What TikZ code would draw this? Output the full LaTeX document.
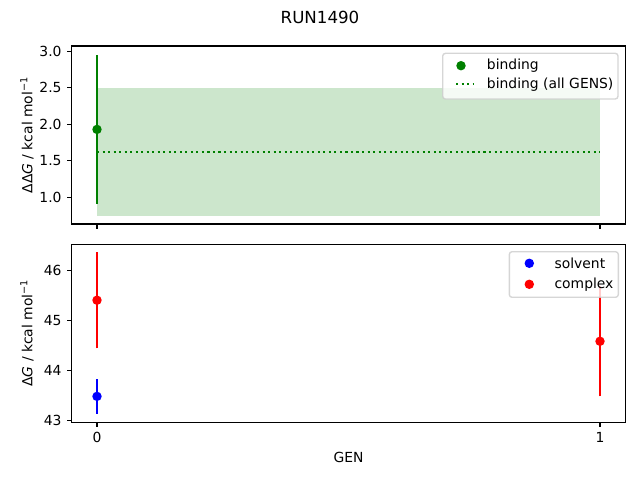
\documentclass[tikz,border=0pt]{standalone}
\usepackage{fontspec}
\setmainfont{DejaVu Sans}
\usepackage{tikz}
\definecolor{mplgreen}{RGB}{0,128,0}
\definecolor{mplblue}{RGB}{0,0,255}
\definecolor{mplred}{RGB}{255,0,0}
\definecolor{legedge}{gray}{0.8}
\tikzset{
  axframe/.style={line width=0.8pt},
  axtick/.style={line width=0.8pt},
  errbar/.style={line width=1.5pt},
  ticklab/.style={inner sep=0pt,font=\fontsize{10}{12}\selectfont},
  legbox/.style={draw=legedge,fill=white,fill opacity=0.8,draw opacity=0.8,rounded corners=2pt,line width=1pt},
  dotline/.style={line width=1.5pt,dash pattern=on 1.5pt off 2.475pt}
}
\begin{document}
\begin{tikzpicture}[x=0.72pt,y=-0.72pt]
\useasboundingbox (0,0) rectangle (640,480);
\node[inner sep=0pt,font=\fontsize{12}{14}\selectfont] (title) at (320,17) {RUN1490};

\begin{scope}[shift={(97,270.3)},x={(362.16pt,0pt)},y={(0pt,52.56pt)}]
  \fill[mplgreen,opacity=0.2] (0,0.74) rectangle (1,2.50);
  \draw[mplgreen,dotline] (0,1.62) -- (1,1.62);
  \draw[errbar,mplgreen] (0,0.91) -- (0,2.95);
  \fill[mplgreen] (0,1.93) circle[radius=3.4pt];
  \draw[axframe] (-0.05,0.634) rectangle (1.05,3.073);
  \foreach \v [count=\i] in {1.0,1.5,2.0,2.5,3.0}
    \draw[axtick] (-0.05,\v) -- ++(-3.5pt,0pt) node[ticklab,anchor=east,xshift=-3.5pt] (ytop\i) {\v};
  \foreach \v in {0,1}
    \draw[axtick] (\v,0.634) -- ++(0pt,-3.5pt);
\end{scope}

\begin{scope}[shift={(97,2574.6)},x={(362.16pt,0pt)},y={(0pt,36.07pt)}]
  \draw[errbar,mplred] (0,44.44) -- (0,46.36);
  \fill[mplred] (0,45.40) circle[radius=3.4pt];
  \draw[errbar,mplblue] (0,43.13) -- (0,43.82);
  \fill[mplblue] (0,43.48) circle[radius=3.4pt];
  \draw[errbar,mplred] (1,43.48) -- (1,45.68);
  \fill[mplred] (1,44.58) circle[radius=3.4pt];
  \draw[axframe] (-0.05,42.966) rectangle (1.05,46.519);
  \foreach \v [count=\i] in {43,44,45,46}
    \draw[axtick] (-0.05,\v) -- ++(-3.5pt,0pt) node[ticklab,anchor=east,xshift=-3.5pt] (ybot\i) {\v};
  \foreach \v in {0,1}
    \draw[axtick] (\v,42.966) -- ++(0pt,-3.5pt) node[ticklab,anchor=north,yshift=-3.5pt] (xt\v) {\v};
\end{scope}

\node[ticklab,rotate=90] (ylabtop) at (27,135) {ΔΔ\textit{G} / kcal mol\textsuperscript{−1}};
\node[ticklab,rotate=90] (ylabbot) at (27,333) {Δ\textit{G} / kcal mol\textsuperscript{−1}};
\node[ticklab] (xlab) at (348.5,457) {GEN};

\draw[legbox] (442.7,53.3) rectangle (618,99);
\fill[mplgreen] (461,65.7) circle[radius=3.4pt];
\node[ticklab,anchor=west] (legbind) at (486.7,65.7) {binding};
\coordinate (dl1) at (456,84.3);
\coordinate (dl2) at (473,84.3);
\draw[mplgreen,dotline] (dl1) -- (dl2);
\node[ticklab,anchor=west] (legall) at (486.7,84.3) {binding (all GENS)};

\draw[legbox] (509.3,251.7) rectangle (618.3,297.3);
\fill[mplblue] (529.3,263.3) circle[radius=3.4pt];
\node[ticklab,anchor=west] (legsolv) at (554.3,263.3) {solvent};
\fill[mplred] (529.3,284.3) circle[radius=3.4pt];
\node[ticklab,anchor=west] (legcomp) at (554.3,284.3) {complex};
\end{tikzpicture}
\end{document}
